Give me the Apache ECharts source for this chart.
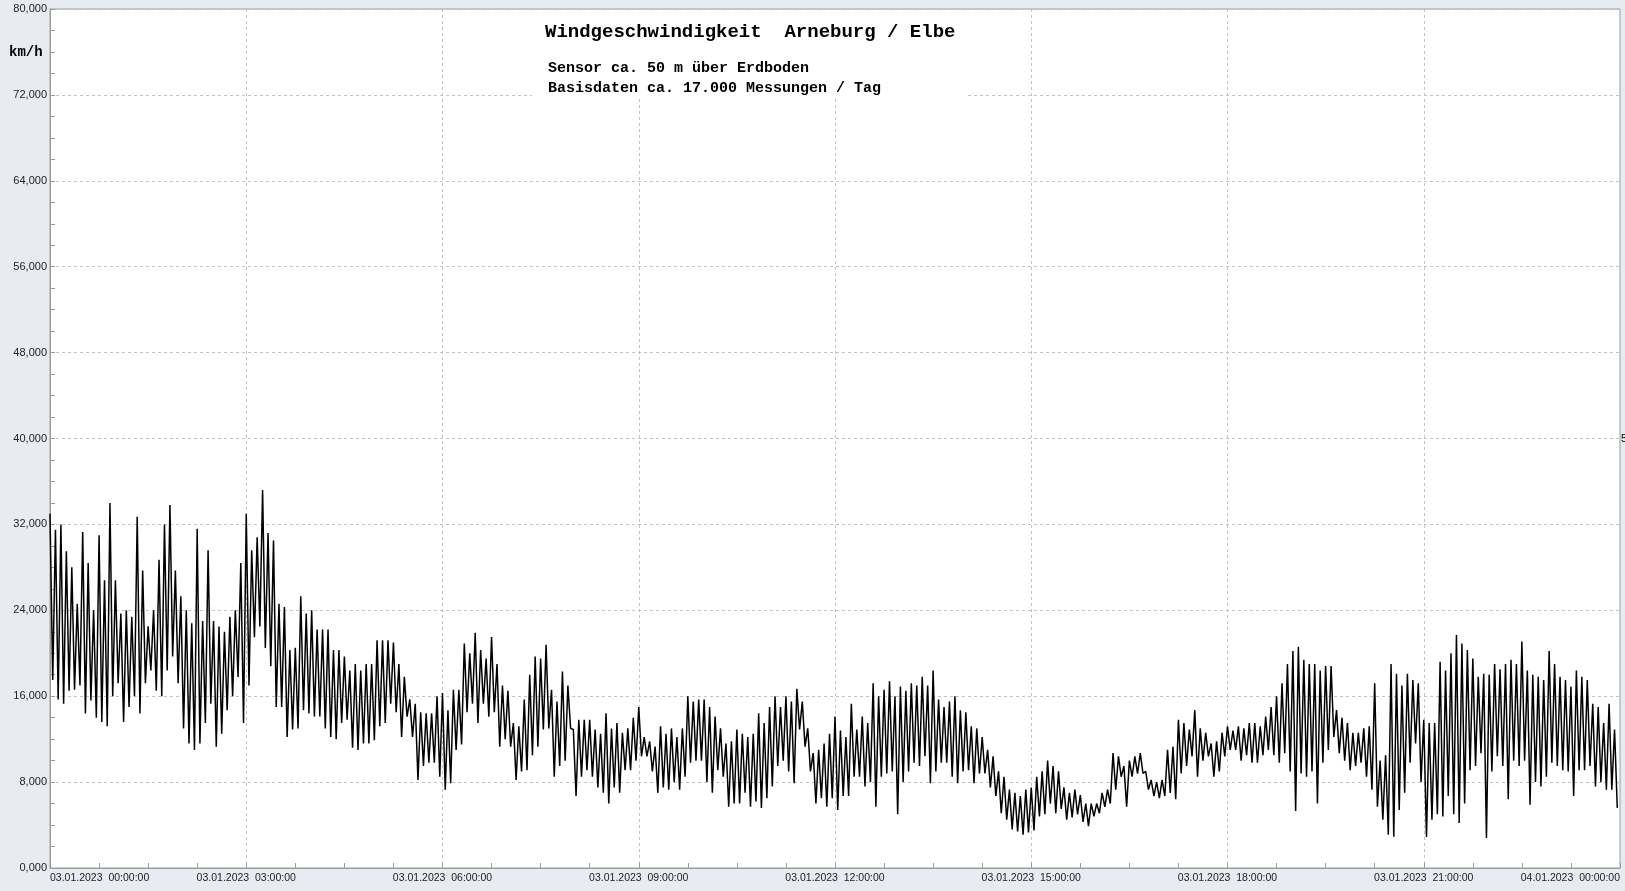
<!DOCTYPE html>
<html>
<head>
<meta charset="utf-8">
<script src="https://cdn.jsdelivr.net/npm/echarts@6/dist/echarts.min.js"></script>
<style>
html,body{margin:0;padding:0;background:#e8ebf2;}
#c{width:1625px;height:891px;}
</style>
</head>
<body>
<div id="c"></div>
<script>
// Tick labels
var xLabels = ["03.01.2023  00:00:00","03.01.2023  03:00:00","03.01.2023  06:00:00","03.01.2023  09:00:00",
  "03.01.2023  12:00:00","03.01.2023  15:00:00","03.01.2023  18:00:00","03.01.2023  21:00:00","04.01.2023  00:00:00"];
var titleText = "Windgeschwindigkeit  Arneburg / Elbe";
var subLine1 = "Sensor ca. 50 m über Erdboden";
var subLine2 = "Basisdaten ca. 17.000 Messungen / Tag";
var unitText = "km/h";

// Wind speed (km/h) per 5-minute interval: upper and lower envelope, one row per hour
var hiVals = [
33,31.5,32,29.5,28,24.6,31.3,28.4,24,31,26.8,34,
26.8,23.7,24,23.4,32.7,27.7,22.5,24,28.7,32,33.8,27.7,
25.3,24,22.8,31.6,23,29.6,23,22.5,22,23.4,24,28.4,
33,29.6,30.8,35.2,31.2,30.5,24.6,24.3,20.3,20.5,25.3,23.7,
24,22.2,22.2,22.2,20.3,20.3,19.7,18.4,19,18.4,19,19,
21.2,21.2,21.2,21,19,17.8,15.7,15.3,14.5,14.4,14.4,16,
16.3,14.7,16.6,16.6,20.9,20,21.9,20.3,19.5,21.5,19,17,
16.5,13.5,13.2,15.7,18,19.7,19.5,20.8,16.6,15.5,18.3,17,
12.9,13.8,13.8,13.8,12.9,12.5,14.4,13,13.5,12.6,13,14,
15,12.2,11.8,11.3,13.2,12.5,13,12.2,13,16,15.5,15.7,
15.7,15,14.1,13,11.6,11.8,12.9,12.5,12.2,12.5,14.4,13.5,
15,16,15,16,15.5,16.7,15.5,13,10.7,11,11.6,12.5,
14.1,12.8,12.2,15.3,12.9,14.1,13.5,17.2,16,16.6,17.4,16,
16.9,16.5,17.2,17,17.8,17,18.4,15.7,15,15.5,16,14.7,
14.5,13.2,13,12.2,11,10.4,9,8.5,7.3,7,6.7,7.3,
7.5,8.5,9,10,9.5,9,7.5,7,7.3,6.8,6,6,
6,7,7.3,10.7,10.4,9.5,10,10.4,10.7,9,8.2,8,
8.2,11,11.3,13.8,13.5,12.9,14.7,13,12.6,11.6,11.8,12.6,
13.2,12.8,13.2,13,13.5,13.5,13.2,14.1,15,16,17.2,19,
20.2,20.6,19.4,19,19,18.4,18.8,18.8,14.7,14,13.5,12.6,
12.6,13,13.2,17.2,10,10.5,19,18.1,17,18.1,17.5,17.2,
13.8,13.5,13.5,19.2,18.4,20,21.7,20.9,20.3,19.5,17.8,18.1,
18,19,18.5,19,19.4,19,21.1,18.4,18,17.8,17.5,20.2,
19,17.8,17.5,16.9,18.4,17.8,17.5,15.3,15,13.5,15.3,12.9
];
var loVals = [
17.5,15.7,15.3,16.5,16.6,17,14.4,15.6,14,13.6,13.2,16,
17.2,13.6,15,16,14.4,17.2,18.4,16.5,16,18.4,19.7,17.2,
13,11.6,11,11.6,13.5,15.3,11.3,12.5,14.7,16,17.8,13.5,
17,21.5,22.5,20.5,18.8,15,15,12.2,12.9,13,14.7,14.4,
14.1,14.1,13,12.2,12,13.5,13.8,11.2,11,11.6,11.6,11.9,
13.2,13.5,15.3,14.5,12.2,14.1,12.2,8.2,9.5,9.8,9.8,8.5,
7.3,7.9,11,11.5,14.5,15.3,13.5,15.3,14.1,14.5,11.3,12,
11.3,8.2,9,9.1,10.5,11.3,12.9,13,8.5,9.5,10,13,
6.7,8.5,9.1,8.5,7.5,7,6,7.5,7,9.1,9.1,10,
10.4,10.4,9,7,7.5,7.3,8,7.3,8.5,9.8,10,10,
8,7,9.1,8.5,5.7,6,6,7,5.7,6.2,5.6,6.5,
7.6,9.5,10,9,7.9,12.9,11.3,9,6,6.5,5.7,6.5,
5.4,6.7,6.7,8.5,8.5,7.6,8,5.7,8.5,8.8,9,5,
8,9,9.8,9.5,10.4,7.9,9,9.8,9.8,8.5,7.9,9,
9.1,7.9,8.8,8.8,7.5,6.7,5.1,4.5,3.6,3.4,3.1,3.3,
3.5,4.8,5,6,5.1,5.5,4.5,4.7,5,4.3,3.9,4.8,
5.1,5.7,6,7.3,8.5,5.7,8.5,8.8,8.8,7.3,6.7,6.5,
6.7,7,6.4,8.8,9.5,10.4,8.5,10,10.4,8.5,9,10.4,
11,11,10,10.5,9.8,9.8,10.5,11,10.5,9.8,10.7,9,
5.3,8.8,8.5,9,6,9.8,11,12.2,10.7,10,9.1,9.5,
9.8,8.5,7.3,5.7,4.5,3.1,2.9,5.4,7,9.8,11.6,8,
2.9,4.5,5,4.8,6.7,5,4.2,6,9.1,9.5,10.7,2.8,
9,10.4,9.5,6.4,10,9.5,10,5.9,8,7.6,8.5,9.8,
9.5,9.1,9,6.7,9.1,9.1,9.5,7.6,8,7.3,7.3,5.6
];

// build the line: within each 5-minute interval, first the high then the low reading
var seriesData = [];
for (var k = 0; k < hiVals.length; k++) {
  seriesData.push([k / 12, hiVals[k]]);
  seriesData.push([(k + 0.5) / 12, loVals[k]]);
}

var chart = echarts.init(document.getElementById('c'), null, {renderer: 'canvas'});
var gridCol = '#c4c4c4';
var axisCol = '#9c9c9c';
chart.setOption({
  animation: false,
  backgroundColor: '#e8ebf2',
  grid: {left: 50, right: 5, top: 9, bottom: 23, show: true, backgroundColor: '#ffffff', borderColor: axisCol, borderWidth: 1},
  xAxis: {
    type: 'value', min: 0, max: 24, interval: 3,
    axisLine: {show: true, lineStyle: {color: axisCol}},
    axisTick: {show: true, inside: true, length: 5, lineStyle: {color: axisCol}},
    minorTick: {show: true, splitNumber: 4, length: 5, lineStyle: {color: axisCol}},
    splitLine: {show: true, lineStyle: {color: gridCol, type: [3, 3], width: 1}},
    axisLabel: {
      fontFamily: 'Liberation Sans, Arial, sans-serif', fontSize: 10.5, color: '#222', margin: 5,
      alignMinLabel: 'left', alignMaxLabel: 'right',
      formatter: function (v) { return xLabels[Math.round(v / 3)]; }
    }
  },
  yAxis: {
    type: 'value', min: 0, max: 80, interval: 8,
    axisLine: {show: true, lineStyle: {color: axisCol}},
    axisTick: {show: true, inside: true, length: 5, lineStyle: {color: axisCol}},
    minorTick: {show: true, splitNumber: 4, length: 5, lineStyle: {color: axisCol}},
    splitLine: {show: true, lineStyle: {color: gridCol, type: [3, 3], width: 1}},
    axisLabel: {
      fontFamily: 'Liberation Sans, Arial, sans-serif', fontSize: 11, color: '#222', margin: 3,
      formatter: function (v) { return v.toFixed(3).replace('.', ','); }
    }
  },
  series: [{
    type: 'line', data: seriesData, showSymbol: false, symbol: 'none', sampling: null,
    lineStyle: {color: '#000', width: 1.5}, z: 3, silent: true
  }],
  graphic: [
    {type: 'rect', shape: {x: 532, y: 10, width: 436, height: 87}, style: {fill: '#ffffff'}, z: 10, silent: true},
    {type: 'text', z: 11, style: {text: titleText, x: 545, y: 32, verticalAlign: 'middle', align: 'left',
      font: 'bold 19px "Liberation Mono", "Courier New", monospace', fill: '#000'}},
    {type: 'text', z: 11, style: {text: subLine1, x: 548, y: 68, verticalAlign: 'middle', align: 'left',
      font: 'bold 15px "Liberation Mono", "Courier New", monospace', fill: '#000'}},
    {type: 'text', z: 11, style: {text: subLine2, x: 548, y: 88, verticalAlign: 'middle', align: 'left',
      font: 'bold 15px "Liberation Mono", "Courier New", monospace', fill: '#000'}},
    {type: 'text', z: 11, style: {text: unitText, x: 9, y: 52, verticalAlign: 'middle', align: 'left',
      font: 'bold 14px "Liberation Mono", "Courier New", monospace', fill: '#000'}},
    {type: 'text', z: 11, style: {text: '5', x: 1621, y: 439, verticalAlign: 'middle', align: 'left',
      font: '11px "Liberation Sans", Arial, sans-serif', fill: '#000'}}
  ]
});
</script>
</body>
</html>
